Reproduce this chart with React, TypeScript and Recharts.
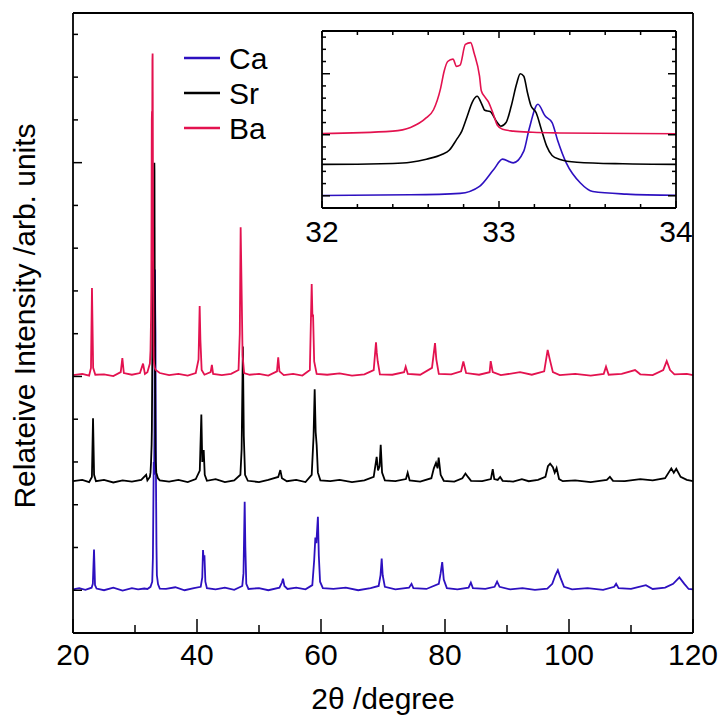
import { CartesianGrid, Legend, Line, LineChart, XAxis, YAxis } from 'recharts';

type Pt = [number, number];

const FONT = '"Liberation Sans", Arial, Helvetica, sans-serif';

const seriesNames = ['Ca', 'Sr', 'Ba'];
const seriesColors = ['#2d10c0', '#000000', '#e3124f'];

// 2theta (degree), relative intensity (offset per sample)
const caPattern: Pt[] = [
  [20.0, 0.02], [21.0, 0.05], [22.0, 0.01], [23.0, 0.06], [23.2, 0.15], [23.39, 0.95], [23.55, 0.12], [23.8, 0.04],
  [25.0, 0.0], [26.5, 0.06], [28.0, -0.01], [29.5, 0.05], [30.5, 0.02], [31.5, 0.04], [32.0, 0.03],
  [32.5, 0.08], [32.78, 0.2], [32.89, 0.77], [32.97, 2.15], [33.02, 3.0], [33.08, 2.7], [33.14, 3.66],
  [33.17, 5.45], [33.22, 7.5], [33.26, 6.55], [33.3, 6.0], [33.33, 4.6], [33.38, 2.7], [33.46, 1.05],
  [33.53, 0.35], [33.72, 0.14], [34.0, 0.04], [35.0, 0.03], [36.5, 0.07], [38.0, 0.0], [39.5, 0.05],
  [40.6, 0.08], [40.85, 0.3], [40.97, 0.94], [41.08, 0.7], [41.2, 0.82], [41.35, 0.2], [41.6, 0.05],
  [43.0, 0.02], [44.5, 0.06], [46.0, 0.01], [47.3, 0.1], [47.5, 0.4], [47.69, 2.07], [47.8, 1.0],
  [47.95, 0.15], [48.3, 0.03], [50.0, 0.05], [51.5, 0.0], [53.3, 0.06], [53.7, 0.18], [53.87, 0.27],
  [54.1, 0.1], [54.6, 0.03], [56.0, 0.06], [57.5, 0.02], [58.6, 0.12], [58.9, 0.7], [59.09, 1.23],
  [59.25, 1.1], [59.5, 1.72], [59.65, 0.8], [59.85, 0.2], [60.3, 0.05], [62.0, 0.03], [64.0, 0.06],
  [66.0, 0.0], [68.0, 0.05], [69.3, 0.1], [69.6, 0.35], [69.79, 0.74], [69.95, 0.35], [70.3, 0.08],
  [72.0, 0.02], [74.2, 0.06], [74.6, 0.15], [74.9, 0.05], [77.0, 0.03], [79.0, 0.15], [79.3, 0.4],
  [79.55, 0.66], [79.8, 0.25], [80.3, 0.05], [82.0, 0.02], [83.8, 0.06], [84.17, 0.18], [84.5, 0.05],
  [86.5, 0.03], [88.0, 0.08], [88.4, 0.2], [88.8, 0.08], [90.5, 0.02], [92.5, 0.05], [94.5, 0.01],
  [96.5, 0.04], [97.3, 0.15], [97.8, 0.35], [98.2, 0.47], [98.6, 0.3], [99.2, 0.08], [100.5, 0.02],
  [103.0, 0.05], [105.5, 0.01], [107.3, 0.08], [107.6, 0.15], [108.0, 0.05], [110.0, 0.03], [112.4, 0.12],
  [113.5, 0.03], [115.5, 0.06], [116.8, 0.15], [117.8, 0.3], [118.6, 0.15], [119.3, 0.03], [120.0, 0.02],
];

const srPattern: Pt[] = [
  [20.0, 2.55], [21.5, 2.58], [22.6, 2.53], [23.05, 2.65], [23.23, 4.02], [23.4, 2.7], [23.7, 2.55],
  [25.0, 2.58], [26.5, 2.52], [28.0, 2.57], [29.5, 2.54], [31.0, 2.58], [31.8, 2.7], [32.0, 2.57],
  [32.4, 2.65], [32.5, 2.75], [32.59, 3.0], [32.68, 3.4], [32.72, 3.75], [32.76, 4.6], [32.79, 5.3],
  [32.82, 6.5], [32.85, 7.7], [32.877, 8.15], [32.9, 7.6], [32.92, 7.0], [32.95, 6.9], [32.99, 6.0],
  [33.01, 5.7], [33.04, 6.0], [33.07, 7.4], [33.1, 9.2], [33.12, 10.0], [33.14, 9.8], [33.16, 8.5],
  [33.18, 7.4], [33.21, 6.8], [33.24, 5.4], [33.27, 4.05], [33.3, 3.3], [33.34, 3.0], [33.44, 2.75],
  [33.7, 2.62], [34.0, 2.57],
  [35.5, 2.54], [37.0, 2.58], [38.5, 2.53], [39.8, 2.6], [40.45, 2.8], [40.7, 4.11], [40.85, 3.0],
  [41.08, 3.28], [41.25, 2.7], [41.6, 2.56], [43.0, 2.6], [44.5, 2.53], [46.0, 2.57], [47.0, 2.7],
  [47.2, 3.3], [47.4, 5.7], [47.55, 3.6], [47.75, 2.7], [48.2, 2.56], [50.0, 2.53], [51.5, 2.58],
  [53.1, 2.65], [53.44, 2.81], [53.7, 2.62], [54.5, 2.55], [56.0, 2.58], [57.5, 2.53], [58.5, 2.7],
  [58.8, 3.6], [58.98, 4.7], [59.14, 3.7], [59.3, 3.4], [59.5, 2.75], [59.9, 2.57], [61.5, 2.55],
  [63.0, 2.58], [65.0, 2.53], [67.0, 2.57], [68.5, 2.65], [68.98, 3.12], [69.2, 2.8], [69.45, 2.9],
  [69.63, 3.4], [69.85, 2.75], [70.3, 2.57], [72.0, 2.55], [73.7, 2.6], [73.98, 2.75], [74.3, 2.57],
  [76.0, 2.54], [77.8, 2.62], [78.2, 2.85], [78.55, 2.98], [78.8, 2.85], [78.98, 3.1], [79.3, 2.7],
  [79.8, 2.56], [81.5, 2.54], [82.8, 2.62], [83.3, 2.73], [83.7, 2.65], [84.2, 2.56], [86.0, 2.55],
  [87.4, 2.6], [87.7, 2.83], [87.95, 2.6], [88.5, 2.58], [88.9, 2.65], [89.3, 2.56], [91.0, 2.54],
  [92.4, 2.6], [93.5, 2.55], [95.0, 2.58], [96.2, 2.65], [96.6, 2.9], [96.96, 2.96], [97.4, 2.88],
  [97.7, 2.75], [98.0, 2.86], [98.4, 2.6], [99.0, 2.55], [101.0, 2.57], [103.5, 2.53], [106.1, 2.58],
  [106.6, 2.65], [107.1, 2.56], [109.0, 2.55], [111.5, 2.6], [113.5, 2.57], [115.5, 2.62], [116.5, 2.85],
  [116.9, 2.75], [117.3, 2.84], [118.0, 2.65], [119.0, 2.58], [120.0, 2.55],
];

const baPattern: Pt[] = [
  [20.0, 5.03], [21.5, 5.06], [22.6, 5.02], [22.9, 5.2], [23.06, 7.07], [23.25, 5.2], [23.6, 5.04],
  [25.0, 5.05], [26.5, 5.01], [27.7, 5.1], [27.96, 5.43], [28.2, 5.08], [29.5, 5.04], [30.8, 5.08],
  [31.3, 5.3], [31.6, 5.06], [32.0, 5.1], [32.4, 5.3], [32.5, 5.6], [32.59, 6.4], [32.63, 7.05],
  [32.67, 8.8], [32.69, 10.2], [32.71, 11.0], [32.74, 11.2], [32.76, 10.6], [32.78, 10.7], [32.81, 12.4],
  [32.84, 12.55], [32.86, 11.65], [32.89, 9.8], [32.9, 8.6], [32.92, 8.1], [32.94, 7.7], [32.97, 6.6],
  [32.99, 5.8], [33.02, 5.45], [33.08, 5.3], [33.19, 5.2], [33.34, 5.15], [34.0, 5.08],
  [35.5, 5.03], [37.0, 5.06], [38.5, 5.02], [39.8, 5.08], [40.25, 5.4], [40.43, 6.65], [40.55, 5.85],
  [40.75, 5.15], [41.2, 5.04], [42.2, 5.1], [42.4, 5.27], [42.6, 5.06], [44.0, 5.03], [45.5, 5.06],
  [46.7, 5.15], [46.9, 6.0], [47.04, 8.49], [47.22, 6.8], [47.35, 5.5], [47.6, 5.08], [48.5, 5.04],
  [50.0, 5.06], [51.5, 5.02], [52.9, 5.12], [53.1, 5.45], [53.3, 5.12], [54.0, 5.03], [55.5, 5.06],
  [57.0, 5.02], [58.2, 5.15], [58.5, 7.16], [58.62, 6.4], [58.72, 6.45], [58.9, 5.35], [59.3, 5.06],
  [61.0, 5.04], [63.0, 5.07], [65.0, 5.02], [67.0, 5.05], [68.5, 5.15], [68.87, 5.8], [69.0, 5.55],
  [69.15, 5.35], [69.5, 5.05], [71.5, 5.04], [73.4, 5.1], [73.66, 5.23], [74.0, 5.06], [76.0, 5.04],
  [77.9, 5.2], [78.39, 5.78], [78.6, 5.4], [79.0, 5.06], [81.0, 5.05], [82.6, 5.12], [82.96, 5.35],
  [83.4, 5.08], [85.5, 5.04], [87.2, 5.1], [87.37, 5.36], [87.7, 5.1], [89.0, 5.03], [92.1, 5.1],
  [94.0, 5.04], [96.0, 5.12], [96.56, 5.62], [96.9, 5.4], [97.4, 5.1], [98.5, 5.03], [101.0, 5.06],
  [103.5, 5.02], [105.6, 5.06], [105.97, 5.23], [106.4, 5.04], [108.5, 5.06], [110.65, 5.15], [111.5, 5.05],
  [113.5, 5.03], [115.2, 5.15], [115.76, 5.36], [116.3, 5.15], [117.0, 5.05], [119.0, 5.06], [120.0, 5.03],
];

const patterns = [caPattern, srPattern, baPattern];

const mainXTicks = [20, 30, 40, 50, 60, 70, 80, 90, 100, 110, 120];
const mainXLabels = [20, 40, 60, 80, 100, 120];
const intensityTicks = [-1, 0, 1, 2, 3, 4, 5, 6, 7, 8, 9, 10, 11, 12, 13];
const intensityMajor = [0, 5, 10];
const insetXTicks = [32, 32.2, 32.4, 32.6, 32.8, 33, 33.2, 33.4, 33.6, 33.8, 34];
const insetXLabels = [32, 33, 34];

const has = (list: number[], v: number) => list.some((m) => Math.abs(m - v) < 1e-6);
const toRows = (pts: Pt[]) => pts.map(([x, y]) => ({ x, y }));
const insetRows = (pts: Pt[]) => toRows(pts.filter(([x]) => x >= 31.5 && x <= 34.5));

const axisLine = { stroke: '#000', strokeWidth: 1.8 };

const bottomTick = (major: number[], labels: number[], longLen: number, shortLen: number, dy: number) =>
  (props: any) => {
    const { x, y, payload } = props;
    const v = payload.value;
    const len = has(major, v) ? longLen : shortLen;
    return (
      <g>
        <line x1={x} x2={x} y1={y} y2={y - len} stroke="#000" strokeWidth={1.5} />
        {has(labels, v) && (
          <text x={x} y={y + dy} textAnchor="middle" fontSize={30} fontFamily={FONT} fill="#000">
            {v}
          </text>
        )}
      </g>
    );
  };

const topTick = (major: number[], longLen: number, shortLen: number) => (props: any) => {
  const { x, y, payload } = props;
  const len = has(major, payload.value) ? longLen : shortLen;
  return <line x1={x} x2={x} y1={y} y2={y + len} stroke="#000" strokeWidth={1.5} />;
};

const sideTick = (major: number[], longLen: number, shortLen: number, dir: number) => (props: any) => {
  const { x, y, payload } = props;
  const len = has(major, payload.value) ? longLen : shortLen;
  return <line x1={x} x2={x + dir * len} y1={y} y2={y} stroke="#000" strokeWidth={1.5} />;
};

const xTitle = () => (
  <text x={383} y={709} textAnchor="middle" fontSize={30} fontFamily={FONT} fill="#000">
    2θ /degree
  </text>
);

const yTitle = () => (
  <text transform="translate(35,316) rotate(-90)" textAnchor="middle" fontSize={30} fontFamily={FONT} fill="#000">
    Relateive Intensity /arb. units
  </text>
);

const renderLegend = (props: any) => {
  const items = [...(props.payload || [])].sort(
    (a: any, b: any) => seriesNames.indexOf(a.value) - seriesNames.indexOf(b.value),
  );
  return (
    <svg width={130} height={110}>
      {items.map((it: any, i: number) => (
        <g key={it.value}>
          <line x1={0} x2={36} y1={18 + i * 35} y2={18 + i * 35} stroke={it.color} strokeWidth={2.5} />
          <text x={45} y={28.5 + i * 35} fontSize={30} fontFamily={FONT} fill="#000">
            {it.value}
          </text>
        </g>
      ))}
    </svg>
  );
};

const App = () => {
  return (
    <div style={{ position: 'absolute', left: 0, top: 0, width: 722, height: 718, background: '#fff', fontFamily: FONT }}>
      <div style={{ position: 'absolute', left: 0, top: 0 }}>
        <LineChart width={722} height={718} margin={{ top: 12, right: 28, bottom: 84, left: 72 }}>
          <XAxis
            xAxisId="b" dataKey="x" type="number" domain={[20, 120]} ticks={mainXTicks} interval={0}
            height={1} tickSize={0} tickMargin={0} tickLine={false} axisLine={axisLine}
            tick={bottomTick(mainXLabels, mainXLabels, 14, 8, 32)} label={{ content: xTitle }}
          />
          <XAxis
            xAxisId="t" orientation="top" dataKey="x" type="number" domain={[20, 120]} ticks={mainXTicks} interval={0}
            height={1} tickSize={0} tickMargin={0} tickLine={false} axisLine={axisLine}
            tick={topTick(mainXLabels, 9, 9)}
          />
          <YAxis
            yAxisId="l" type="number" domain={[-1, 13.5]} ticks={intensityTicks} interval={0}
            width={1} tickSize={0} tickMargin={0} tickLine={false} axisLine={axisLine}
            tick={sideTick(intensityMajor, 9, 5, 1)} label={{ content: yTitle }}
          />
          <YAxis
            yAxisId="r" orientation="right" type="number" domain={[-1, 13.5]} ticks={intensityTicks} interval={0}
            width={1} tickSize={0} tickMargin={0} tickLine={false} axisLine={axisLine}
            tick={sideTick(intensityMajor, 9, 5, -1)}
          />
          <Legend
            layout="vertical" align="center" verticalAlign="middle"
            wrapperStyle={{ left: 184, top: 40, width: 130, height: 110 }}
            content={renderLegend}
          />
          {patterns.map((p, i) => (
            <Line
              key={seriesNames[i]} name={seriesNames[i]} xAxisId="b" yAxisId="l" data={toRows(p)} dataKey="y"
              type="linear" stroke={seriesColors[i]} strokeWidth={1.8} dot={false} activeDot={false}
              isAnimationActive={false}
            />
          ))}
        </LineChart>
      </div>
      <div style={{ position: 'absolute', left: 290, top: 0 }}>
        <LineChart width={420} height={260} margin={{ top: 30, right: 33, bottom: 51, left: 31 }}>
          <CartesianGrid horizontal={false} vertical={false} fill="#fff" />
          <XAxis
            xAxisId="b" dataKey="x" type="number" domain={[32, 34]} allowDataOverflow ticks={insetXTicks} interval={0}
            height={1} tickSize={0} tickMargin={0} tickLine={false} axisLine={axisLine}
            tick={bottomTick(insetXLabels, insetXLabels, 7, 4, 34)}
          />
          <XAxis
            xAxisId="t" orientation="top" dataKey="x" type="number" domain={[32, 34]} allowDataOverflow ticks={insetXTicks}
            interval={0} height={1} tickSize={0} tickMargin={0} tickLine={false} axisLine={axisLine}
            tick={topTick(insetXLabels, 7, 4)}
          />
          <YAxis
            yAxisId="l" type="number" domain={[-1, 13.5]} allowDataOverflow ticks={intensityTicks} interval={0}
            width={1} tickSize={0} tickMargin={0} tickLine={false} axisLine={axisLine}
            tick={sideTick(intensityMajor, 8, 4, 1)}
          />
          <YAxis
            yAxisId="r" orientation="right" type="number" domain={[-1, 13.5]} allowDataOverflow ticks={intensityTicks}
            interval={0} width={1} tickSize={0} tickMargin={0} tickLine={false} axisLine={axisLine}
            tick={sideTick(intensityMajor, 8, 4, -1)}
          />
          {patterns.map((p, i) => (
            <Line
              key={seriesNames[i]} name={seriesNames[i]} xAxisId="b" yAxisId="l" data={insetRows(p)} dataKey="y"
              type="monotone" stroke={seriesColors[i]} strokeWidth={1.6} dot={false} activeDot={false}
              isAnimationActive={false}
            />
          ))}
        </LineChart>
      </div>
    </div>
  );
};

export default App;
